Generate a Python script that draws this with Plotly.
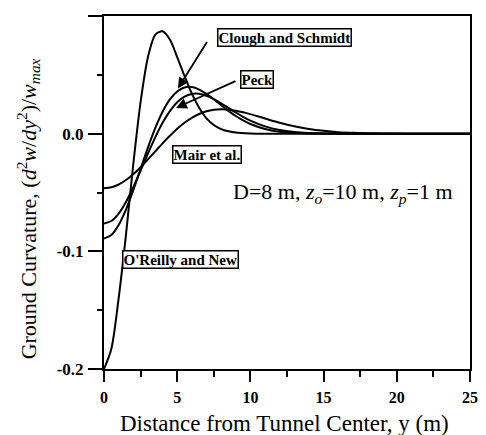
import plotly.graph_objects as go

# ---- data ----
x_or = [0, 0.5, 1.0, 1.5, 2.0, 2.5, 3.0, 3.5, 4.0, 4.5, 5.0, 5.5, 6.0, 6.5, 7.0, 7.5, 8.0, 8.5, 9.0, 10, 11, 25]
y_or = [-0.200, -0.183, -0.140, -0.086, -0.026, 0.027, 0.065, 0.084, 0.087, 0.080, 0.065, 0.049, 0.034, 0.022,
        0.013, 0.0074, 0.0039, 0.0020, 0.0009, 0.0002, 0.0, 0.0]

x_cs = [0, 0.5, 1.0, 1.5, 2.0, 2.5, 3.0, 3.5, 4.0, 4.5, 5.0, 5.5, 6.0, 6.5, 7.0, 7.5, 8.0, 8.5, 9.0, 9.5, 10,
        11, 12, 13, 14, 15, 16, 25]
y_cs = [-0.0891, -0.0862, -0.0776, -0.0645, -0.0480, -0.0299, -0.0118, 0.0047, 0.0186, 0.0291, 0.0359, 0.0393,
        0.0396, 0.0375, 0.0338, 0.0292, 0.0242, 0.0194, 0.0150, 0.0113, 0.0082, 0.0040, 0.0017, 0.0007, 0.0002,
        0.0001, 0.0, 0.0]

x_pk = [0, 0.5, 1.0, 1.5, 2.0, 2.5, 3.0, 3.5, 4.0, 4.5, 5.0, 5.5, 6.0, 6.5, 7.0, 7.5, 8.0, 8.5, 9.0, 9.5, 10,
        11, 12, 13, 14, 15, 16, 17, 25]
y_pk = [-0.0763, -0.0742, -0.0679, -0.0580, -0.0455, -0.0314, -0.0169, -0.0031, 0.0092, 0.0192, 0.0267, 0.0315,
        0.0338, 0.0339, 0.0322, 0.0294, 0.0258, 0.0219, 0.0180, 0.0143, 0.0111, 0.0062, 0.0031, 0.0014, 0.0006,
        0.0002, 0.0001, 0.0, 0.0]

x_ma = [0, 0.5, 1.0, 1.5, 2.0, 2.5, 3.0, 3.5, 4.0, 4.5, 5.0, 5.5, 6.0, 6.5, 7.0, 7.5, 8.0, 8.5, 9.0, 9.5, 10,
        11, 12, 13, 14, 15, 16, 17, 18, 19, 20, 21, 25]
y_ma = [-0.0464, -0.0456, -0.0432, -0.0394, -0.0344, -0.0285, -0.0219, -0.0151, -0.0082, -0.0018, 0.0042, 0.0093,
        0.0135, 0.0167, 0.0190, 0.0203, 0.0207, 0.0204, 0.0195, 0.0182, 0.0166, 0.0129, 0.0093, 0.0063, 0.0040,
        0.0024, 0.0013, 0.0007, 0.0004, 0.0002, 0.0001, 0.0, 0.0]

x_ticks = [0, 5, 10, 15, 20, 25]
x_ticktext = ["0", "5", "10", "15", "20", "25"]
y_ticks = [-0.2, -0.1, 0.0, 0.1]
y_ticktext = ["-0.2", "-0.1", "0.0", "0.1"]

label_or = "O'Reilly and New"
label_cs = "Clough and Schmidt"
label_pk = "Peck"
label_ma = "Mair et al."
note = "D=8 m, <i>z</i><sub><i>o</i></sub>=10 m, <i>z</i><sub><i>p</i></sub>=1 m"
x_title = "Distance from Tunnel Center, y (m)"
y_title = "Ground Curvature, (<i>d</i><sup>2</sup><i>w</i>/<i>dy</i><sup>2</sup>)/<i>w</i><sub><i>max</i></sub>"

SERIF = "Liberation Serif"

fig = go.Figure()
for xs, ys, nm in [(x_or, y_or, label_or), (x_cs, y_cs, label_cs), (x_pk, y_pk, label_pk), (x_ma, y_ma, label_ma)]:
    fig.add_trace(go.Scatter(x=xs, y=ys, mode="lines", name=nm,
                             line=dict(color="black", width=2, shape="spline", smoothing=0.8),
                             showlegend=False, hoverinfo="skip"))

box = dict(font=dict(family=SERIF, size=15, color="black"), bordercolor="black", borderwidth=1.5,
           borderpad=0, bgcolor="white", showarrow=False, xref="paper", yref="paper",
           xanchor="center", yanchor="middle")
annotations = [
    dict(text="<b>%s</b>" % label_cs, x=0.492, y=0.9405, **box),
    dict(text="<b>%s</b>" % label_pk, x=0.417, y=0.8215, **box),
    dict(text="<b>%s</b>" % label_ma, x=0.281, y=0.6076, **box),
    dict(text="<b>%s</b>" % label_or, x=0.2077, y=0.310, **box),
    dict(text=note, x=0.653, y=0.50, xref="paper", yref="paper", showarrow=False,
         font=dict(family=SERIF, size=22, color="black")),
    # arrows
    dict(text="", x=5.05, y=0.0384, ax=7.1, ay=0.0791, xref="x", yref="y", axref="x", ayref="y",
         showarrow=True, arrowhead=2, arrowsize=1.2, arrowwidth=1.8, arrowcolor="black"),
    dict(text="", x=4.92, y=0.0219, ax=9.08, ay=0.0452, xref="x", yref="y", axref="x", ayref="y",
         showarrow=True, arrowhead=2, arrowsize=1.2, arrowwidth=1.8, arrowcolor="black"),
    # axis titles
    dict(text=x_title, x=0.492, y=-0.153, xref="paper", yref="paper", showarrow=False,
         xanchor="center", yanchor="middle", font=dict(family=SERIF, size=23, color="black")),
    dict(text=y_title, x=-0.2077, y=0.455, xref="paper", yref="paper", showarrow=False, textangle=-90,
         xanchor="center", yanchor="middle", font=dict(family=SERIF, size=22, color="black")),
]

# page has an 8 px body margin, so the figure is drawn 8 px smaller and the margins shifted
fig.update_layout(
    width=478, height=427,
    margin=dict(l=96, r=16, t=8, b=66, autoexpand=False),
    paper_bgcolor="white", plot_bgcolor="white",
    annotations=annotations,
    font=dict(family=SERIF, color="black"),
)
fig.update_xaxes(range=[0, 25], tickvals=x_ticks, ticktext=x_ticktext, ticks="outside", ticklen=11,
                 tickwidth=1.5, tickcolor="black", showline=True, linewidth=2, linecolor="black", mirror=True,
                 showgrid=False, zeroline=False, ticklabelstandoff=2, automargin=False,
                 tickfont=dict(family=SERIF, size=16, color="black", weight="bold"),
                 minor=dict(dtick=2.5, tick0=0, ticks="outside", ticklen=6, tickwidth=1.5, tickcolor="black",
                            showgrid=False))
fig.update_yaxes(range=[-0.2, 0.1], tickvals=y_ticks, ticktext=y_ticktext, ticks="outside", ticklen=14,
                 tickwidth=1.5, tickcolor="black", showline=True, linewidth=2, linecolor="black", mirror=True,
                 showgrid=False, zeroline=False, ticklabelstandoff=1, automargin=False,
                 tickfont=dict(family=SERIF, size=17, color="black", weight="bold"),
                 minor=dict(dtick=0.05, tick0=0, ticks="outside", ticklen=5, tickwidth=1.5, tickcolor="black",
                            showgrid=False))

fig.write_html("out.html")
